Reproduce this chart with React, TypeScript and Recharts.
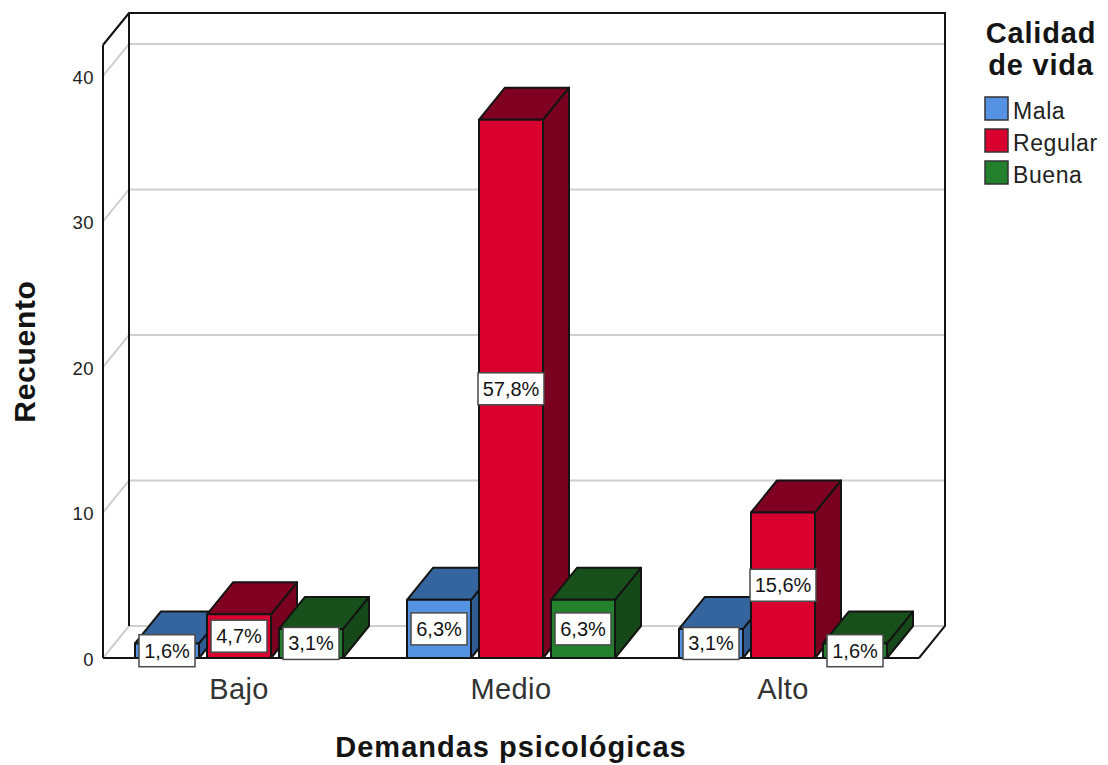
import { BarChart, Bar, XAxis, YAxis, CartesianGrid, LabelList } from "recharts";

const categories = ["Bajo", "Medio", "Alto"];
const mala = [1, 4, 2];
const regular = [3, 37, 10];
const buena = [2, 4, 1];
const malaPct = ["1,6%", "6,3%", "3,1%"];
const regularPct = ["4,7%", "57,8%", "15,6%"];
const buenaPct = ["3,1%", "6,3%", "1,6%"];
const yTicks = [0, 10, 20, 30, 40];

const rows = categories.map((name, i) => ({
  name,
  Mala: mala[i],
  Regular: regular[i],
  Buena: buena[i],
  malaPct: malaPct[i],
  regularPct: regularPct[i],
  buenaPct: buenaPct[i],
}));

const FONT = "'Liberation Sans', Arial, sans-serif";
const INK = "#141414";
const GRID = "#cfcfcf";

// the fake 3D depth, SPSS style
const DX = 26;
const DY = 32;

const COLORS = {
  Mala: { front: "#5592e2", top: "#35659e", side: "#2f5c92" },
  Regular: { front: "#d9002f", top: "#7f0020", side: "#7a001f" },
  Buena: { front: "#23802d", top: "#17501b", side: "#15491a" },
};
type SeriesName = keyof typeof COLORS;

const legendItems: SeriesName[] = ["Mala", "Regular", "Buena"];

function box3d(series: SeriesName) {
  const c = COLORS[series];
  return (props: any) => {
    const { x, y, width, height } = props;
    const r = x + width;
    const b = y + height;
    return (
      <g stroke={INK} strokeWidth={2} strokeLinejoin="round">
        <path d={`M${r},${y} L${r + DX},${y - DY} L${r + DX},${b - DY} L${r},${b} Z`} fill={c.side} />
        <path d={`M${x},${y} L${x + DX},${y - DY} L${r + DX},${y - DY} L${r},${y} Z`} fill={c.top} />
        <rect x={x} y={y} width={width} height={height} fill={c.front} />
      </g>
    );
  };
}

function pctLabel(props: any) {
  const { x, y, width, height, value } = props;
  const text = String(value);
  const w = text.length > 4 ? 66 : 56;
  const h = 32;
  const cx = x + width / 2;
  const cy = y + height / 2;
  return (
    <g>
      <rect x={cx - w / 2} y={cy - h / 2} width={w} height={h} fill="#fff" stroke="#4a4a4a" strokeWidth={1.5} />
      <text x={cx} y={cy + 7} textAnchor="middle" fontSize={20} fontFamily={FONT} fill={INK}>
        {text}
      </text>
    </g>
  );
}

function yTick(props: any) {
  const { x, y, payload } = props;
  return (
    <text x={x + 5} y={y + 8} textAnchor="end" fontSize={18.5} letterSpacing={0.5} fontFamily={FONT} fill="#222">
      {payload.value}
    </text>
  );
}

// back grid lines, pushed back by the depth, with their diagonal on the side wall
function gridLine(props: any) {
  const { x1, x2, y1, key } = props;
  const yb = y1 - DY;
  return (
    <path
      key={key}
      d={`M${x1},${y1} L${x1 + DX},${yb} L${x2 + DX},${yb}`}
      fill="none"
      stroke={GRID}
      strokeWidth={2}
    />
  );
}

function Walls() {
  const left = 103;
  const right = 919;
  const top = 45;
  const floor = 658;
  return (
    <path
      d={`M${left},${top} L${left + DX},${top - DY} L${right + DX},${top - DY} L${right + DX},${floor - DY} L${right},${floor} M${left + DX},${top - DY} L${left + DX},${floor - DY}`}
      fill="none"
      stroke={INK}
      strokeWidth={2}
    />
  );
}

function SideLegend() {
  return (
    <g fontFamily={FONT}>
      <text x={1041} y={43} textAnchor="middle" fontSize={29} letterSpacing={0.8} fontWeight="bold" fill={INK}>
        Calidad
      </text>
      <text x={1041} y={75} textAnchor="middle" fontSize={29} letterSpacing={0.8} fontWeight="bold" fill={INK}>
        de vida
      </text>
      {legendItems.map((name, i) => (
        <g key={name}>
          <rect x={985} y={97 + i * 32} width={23} height={23} fill={COLORS[name].front} stroke="#333" strokeWidth={1.5} />
          <text x={1013} y={119 + i * 32} fontSize={23} letterSpacing={0.6} fill="#222">
            {name}
          </text>
        </g>
      ))}
    </g>
  );
}

export default function App() {
  return (
    <div style={{ position: "absolute", left: 0, top: 0, width: 1108, height: 765, background: "#fff" }}>
      <BarChart
        width={1108}
        height={765}
        data={rows}
        margin={{ top: 45, right: 189, bottom: 0, left: 0 }}
        barSize={64}
        barGap={8}
      >
        <CartesianGrid vertical={false} horizontal={gridLine} />
        <Walls />
        <XAxis
          dataKey="name"
          height={107}
          tickLine={false}
          tickMargin={14}
          axisLine={{ stroke: INK, strokeWidth: 2 }}
          tick={{ fontSize: 29, letterSpacing: 0.4, fontFamily: FONT, fill: "#333" }}
          label={{
            value: "Demandas psicológicas",
            position: "insideBottom",
            offset: 8,
            fontSize: 29,
            letterSpacing: 1,
            fontWeight: "bold",
            fontFamily: FONT,
            fill: INK,
          }}
        />
        <YAxis
          width={103}
          domain={[0, 42.13]}
          ticks={yTicks}
          tickLine={false}
          tickMargin={8}
          axisLine={{ stroke: INK, strokeWidth: 2 }}
          tick={yTick}
          label={{
            value: "Recuento",
            angle: -90,
            position: "insideLeft",
            offset: 24,
            fontSize: 30,
            letterSpacing: 0.7,
            fontWeight: "bold",
            fontFamily: FONT,
            fill: INK,
            style: { textAnchor: "middle" },
          }}
        />
        <Bar dataKey="Mala" isAnimationActive={false} shape={box3d("Mala")}>
          <LabelList dataKey="malaPct" content={pctLabel} />
        </Bar>
        <Bar dataKey="Regular" isAnimationActive={false} shape={box3d("Regular")}>
          <LabelList dataKey="regularPct" content={pctLabel} />
        </Bar>
        <Bar dataKey="Buena" isAnimationActive={false} shape={box3d("Buena")}>
          <LabelList dataKey="buenaPct" content={pctLabel} />
        </Bar>
        <SideLegend />
      </BarChart>
    </div>
  );
}
